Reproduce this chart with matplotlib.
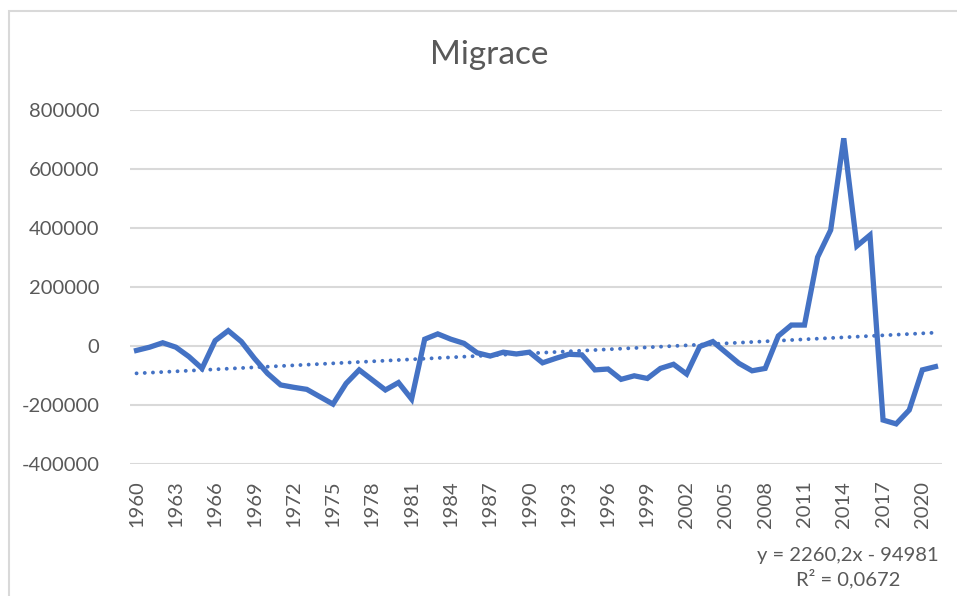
import matplotlib
matplotlib.use("Agg")
import matplotlib.pyplot as plt
from matplotlib.patches import Rectangle
import numpy as np

# Migration per year
years = list(range(1960, 2022))
migrace = [
    -15000, -4000, 11000, -4000, -36000, -76000, 18000, 52000, 15000, -42000,
    -93000, -132000, -140000, -147000, -172000, -197000, -127000, -81000, -115000, -149000,
    -124000, -180000, 23000, 41000, 23000, 9000, -23000, -34000, -21000, -27000,
    -21000, -57000, -42000, -28000, -30000, -81000, -78000, -113000, -101000, -110000,
    -76000, -62000, -95000, -2000, 15000, -22000, -59000, -84000, -76000, 34000,
    71000, 71000, 301000, 393000, 704000, 339000, 376000, -251000, -264000, -217000,
    -81000, -70000,
]

# Linear trendline as reported by the chart (x = 1..62)
trend_slope = 2260.2
trend_intercept = -94981
trend_label = "y = 2260,2x - 94981\nR\u00b2 = 0,0672"

yticks = [-400000, -200000, 0, 200000, 400000, 600000, 800000]

blue = "#4472C4"
grey_text = "#595959"
grid_col = "#D9D9D9"

plt.rcParams['font.family'] = ['Lato', 'DejaVu Sans']

fig = plt.figure(figsize=(9.57, 5.96), dpi=100)
ax = fig.add_axes([130/957, 132/596, 812/957, 354/596])

x = np.arange(1, len(years) + 1)
ax.plot(x, migrace, color=blue, lw=3.8, solid_joinstyle='miter', zorder=3)

trend = trend_slope * x + trend_intercept
ax.plot(x, trend, color=blue, lw=2.8, linestyle=(0, (0.01, 2.1)),
        dash_capstyle='round', zorder=4)

ax.set_xlim(0.5, len(years) + 0.5)
ax.set_ylim(-400000, 800000)
ax.set_yticks(yticks)
ax.set_yticklabels([str(v) for v in yticks])
ax.yaxis.grid(True, color=grid_col, lw=1.5)
ax.set_axisbelow(True)

tick_pos = x[::3]
ax.set_xticks(tick_pos)
ax.set_xticklabels([str(years[i - 1]) for i in tick_pos], rotation=90)

ax.tick_params(axis='both', length=0, colors=grey_text, labelsize=14.5)
ax.tick_params(axis='y', pad=22)
ax.tick_params(axis='x', pad=12)
for s in ax.spines.values():
    s.set_visible(False)

fig.text(0.511, 1 - 55/596, "Migrace", ha='center', va='center',
         fontsize=24, color=grey_text)

fig.text(848/957, 1 - 568/596, trend_label, ha='center', va='center',
         fontsize=14.5, color=grey_text, linespacing=1.3)

# chart area border
fig.patches.append(Rectangle((9/957, -0.05), 1.0, 1 - 11.5/596 + 0.05,
                             transform=fig.transFigure, fill=False,
                             edgecolor=grid_col, lw=1.5))

fig.savefig("out.png", dpi=100, facecolor="white")
